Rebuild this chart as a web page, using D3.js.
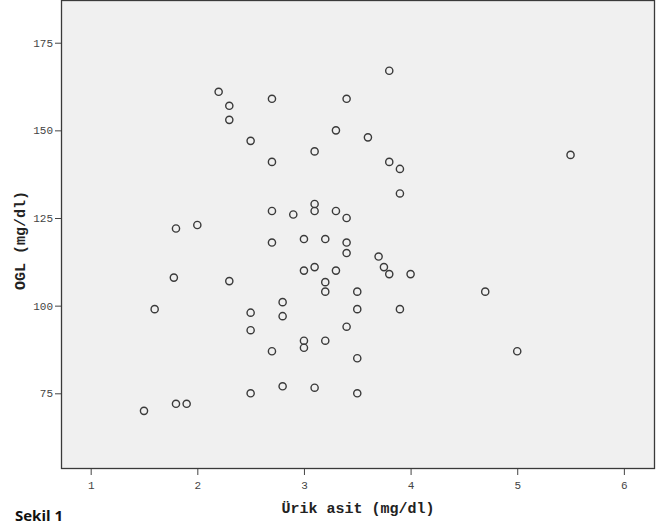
<!DOCTYPE html>
<html>
<head>
<meta charset="utf-8">
<script src="https://cdn.jsdelivr.net/npm/d3@7"></script>
<style>
  body { margin: 0; background: #fff; }
</style>
</head>
<body>
<div id="chart"></div>
<script>
// values
let urikAsit = [1.5, 1.6, 1.8, 1.9, 1.8, 1.78, 2.0, 2.2, 2.3, 2.3, 2.3, 2.5, 2.5, 2.5, 2.5,
    2.7, 2.7, 2.7, 2.7, 2.7, 2.8, 2.8, 2.8, 2.9, 3.0, 3.0, 3.0, 3.0,
    3.1, 3.1, 3.1, 3.1, 3.1, 3.2, 3.2, 3.2, 3.2, 3.3, 3.3, 3.3,
    3.4, 3.4, 3.4, 3.4, 3.4, 3.5, 3.5, 3.5, 3.5, 3.6, 3.7, 3.75,
    3.8, 3.8, 3.8, 3.9, 3.9, 3.9, 4.0, 4.7, 5.0, 5.5]
let ogl = [70, 99, 72, 72, 122, 108, 123, 161, 157, 153, 107, 147, 98, 93, 75,
    159, 141, 127, 118, 87, 101, 97, 77, 126, 119, 110, 90, 88,
    144, 129, 127, 111, 76.6, 119, 106.7, 104, 90, 150, 127, 110,
    159, 125, 118, 115, 94, 104, 99, 85, 75, 148, 114, 111,
    167, 141, 109, 139, 132, 99, 109, 104, 87, 143]
let xTicks = [1, 2, 3, 4, 5, 6]
let yTicks = [75, 100, 125, 150, 175]
let x_label = "Ürik asit (mg/dl)"
let y_label = "OGL (mg/dl)"
let caption = "Sekil 1"

let data = urikAsit.map(function (v, i) { return {x: v, y: ogl[i]} })

var margin = {top: 0, right: 10, bottom: 55, left: 61},
    width = 665 - margin.left - margin.right,
    height = 524 - margin.top - margin.bottom;

var svg = d3.select("#chart")
    .append("svg")
    .attr("width", 665)
    .attr("height", 524)

var g = svg.append("g")
    .attr("transform", "translate(" + margin.left + "," + margin.top + ")");

var x = d3.scaleLinear()
    .domain([0.7217, 6.292])
    .range([0, width]);

var y = d3.scaleLinear()
    .domain([53.41, 187.18])
    .range([height, 0]);

// plot background
g.append("rect")
    .attr("x", 0.5)
    .attr("y", 0.5)
    .attr("width", width - 1)
    .attr("height", height - 1)
    .style("fill", "#f0f0f0")
    .style("stroke", "#3a3a3a")
    .style("stroke-width", 1.3)

// X axis
var xAxis = g.append("g")
    .attr("transform", "translate(0," + height + ")")
    .call(d3.axisBottom(x).tickValues(xTicks).tickFormat(d3.format("d"))
        .tickSize(6).tickSizeOuter(0).tickPadding(6))
xAxis.select(".domain").remove()
xAxis.selectAll("line").style("stroke", "#444")
xAxis.selectAll("text")
    .style("font-family", "'Liberation Mono', monospace")
    .style("font-size", "11px")
    .style("fill", "#444")

// Y axis
var yAxis = g.append("g")
    .call(d3.axisLeft(y).tickValues(yTicks).tickFormat(d3.format("d"))
        .tickSize(6).tickSizeOuter(0).tickPadding(2))
yAxis.select(".domain").remove()
yAxis.selectAll("line").style("stroke", "#444")
yAxis.selectAll("text")
    .style("font-family", "'Liberation Mono', monospace")
    .style("font-size", "11px")
    .style("fill", "#444")

// axis titles
g.append("text")
    .attr("text-anchor", "middle")
    .attr("x", width / 2)
    .attr("y", height + 44)
    .text(x_label)
    .style("font-family", "'Liberation Mono', monospace")
    .style("font-weight", "bold")
    .style("font-size", "15px")
    .style("fill", "#222")

g.append("text")
    .attr("text-anchor", "middle")
    .attr("transform", "rotate(-90)")
    .attr("x", -height / 2 - 6)
    .attr("y", -36)
    .text(y_label)
    .style("font-family", "'Liberation Mono', monospace")
    .style("font-weight", "bold")
    .style("font-size", "15px")
    .style("fill", "#222")

// caption
svg.append("text")
    .attr("x", 15)
    .attr("y", 521)
    .text(caption)
    .style("font-family", "'Open Sans', sans-serif")
    .style("font-weight", "bold")
    .style("font-size", "15px")
    .style("fill", "#111")

// Add dots
g.append("g")
    .selectAll("circle")
    .data(data)
    .enter()
    .append("circle")
    .attr("cx", function (d) { return x(d.x); })
    .attr("cy", function (d) { return y(d.y); })
    .attr("r", 3.6)
    .style("fill", "none")
    .style("stroke", "#3a3a3a")
    .style("stroke-width", 1.4)
</script>
</body>
</html>
